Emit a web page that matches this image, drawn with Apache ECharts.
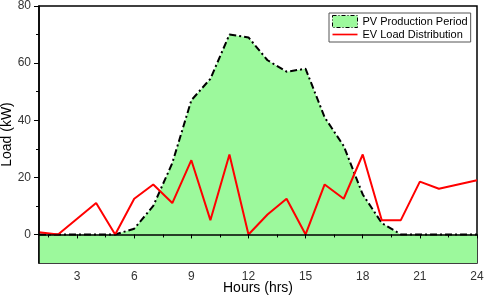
<!DOCTYPE html>
<html>
<head>
<meta charset="utf-8">
<script src="https://cdn.jsdelivr.net/npm/echarts@6/dist/echarts.min.js"></script>
<style>
  html, body { margin: 0; padding: 0; background: #fff; }
  #chart { width: 484px; height: 305px; }
</style>
</head>
<body>
<div id="chart"></div>
<script>
const hours = [1, 2, 3, 4, 5, 6, 7, 8, 9, 10, 11, 12, 13, 14, 15, 16, 17, 18, 19, 20, 21, 22, 23, 24];
const pvLoad = [0, 0, 0, 0, 0, 2, 10, 25, 47, 54.5, 70, 69, 61, 57, 58, 41, 31, 14, 4, 0, 0, 0, 0, 0];
const evLoad = [0.8, 0, 5.5, 11, 0, 12.5, 17.5, 11, 26, 5, 28, 0, 7, 12.5, 0, 17.5, 12.5, 28, 5, 5, 18.5, 16, 17.5, 19];
const xTickLabels = [3, 6, 9, 12, 15, 18, 21, 24];
const xMinorTicks = [1.5, 4.5, 7.5, 10.5, 13.5, 16.5, 19.5, 22.5];
const yTickLabels = [0, 20, 40, 60, 80];
const yMinorTicks = [10, 30, 50, 70];

const FONT = "Liberation Sans";
const GREEN = "#9cf99c";
const RED = "#ff0000";

const chart = echarts.init(document.getElementById("chart"));

const xBase = { type: "value", min: 1, max: 24, gridIndex: 0, position: "bottom", splitLine: { show: false }, z: 5 };
const yBase = { type: "value", min: -10, max: 80, gridIndex: 0, position: "left", splitLine: { show: false }, z: 5 };

let option = {
  animation: false,
  textStyle: { fontFamily: FONT },
  grid: {
    left: 39, right: 7, top: 6, bottom: 42,
    containLabel: false,
    outerBoundsMode: "none",
    show: true, borderColor: "#000", borderWidth: 1.5, backgroundColor: "transparent",
  },
  legend: {
    orient: "vertical",
    left: 329, top: 13,
    padding: [2, 3, 2, 3],
    itemGap: 1,
    itemWidth: 25, itemHeight: 12,
    backgroundColor: "#fff",
    borderColor: "#555", borderWidth: 1,
    textStyle: { fontFamily: FONT, fontSize: 11, color: "#000" },
    data: [
      {
        name: "PV Production Period",
        icon: "rect",
        itemStyle: { color: GREEN, borderColor: "#000", borderWidth: 1, borderType: [4, 2, 1, 2] },
      },
      {
        name: "EV Load Distribution",
        icon: "path://M0,0H30V2H0Z",
        itemStyle: { color: RED },
      },
    ],
  },
  xAxis: [
    Object.assign({}, xBase, {
      name: "Hours (hrs)",
      nameLocation: "middle",
      nameGap: 18,
      nameMoveOverlap: false,
      nameTextStyle: { fontFamily: FONT, fontSize: 14, color: "#000" },
      axisLine: { lineStyle: { color: "#000", width: 1.5 } },
      axisTick: { show: true, length: 4, customValues: xTickLabels, lineStyle: { color: "#000", width: 1 } },
      axisLabel: { customValues: xTickLabels, margin: 8, fontSize: 12, color: "#333", fontFamily: FONT },
    }),
    Object.assign({}, xBase, {
      axisLine: { show: false },
      axisTick: { show: true, length: 3, customValues: xMinorTicks, lineStyle: { color: "#000", width: 1 } },
      axisLabel: { show: false },
    }),
  ],
  yAxis: [
    Object.assign({}, yBase, {
      name: "Load (kW)",
      nameLocation: "middle",
      nameGap: 25,
      nameMoveOverlap: false,
      nameTextStyle: { fontFamily: FONT, fontSize: 14, color: "#000" },
      axisLine: { show: true, lineStyle: { color: "#000", width: 1.5 } },
      axisTick: { show: true, length: 5, customValues: yTickLabels, lineStyle: { color: "#000", width: 1 } },
      axisLabel: { customValues: yTickLabels, margin: 8, fontSize: 12, color: "#333", fontFamily: FONT },
    }),
    Object.assign({}, yBase, {
      axisLine: { show: false },
      axisTick: { show: true, length: 3, customValues: yMinorTicks, lineStyle: { color: "#000", width: 1 } },
      axisLabel: { show: false },
    }),
  ],
  series: [
    {
      name: "PV Production Period",
      type: "line",
      symbol: "none",
      data: hours.map((h, i) => [h, pvLoad[i]]),
      lineStyle: { color: "#000", width: 2, type: [7, 3, 2, 3] },
      itemStyle: { color: GREEN },
      areaStyle: { color: GREEN, opacity: 1, origin: "start" },
      z: 2,
    },
    {
      name: "EV Load Distribution",
      type: "line",
      symbol: "none",
      data: hours.map((h, i) => [h, evLoad[i]]),
      lineStyle: { color: RED, width: 2 },
      itemStyle: { color: RED },
      z: 3,
    },
  ],
};

chart.setOption(option);
</script>
</body>
</html>
